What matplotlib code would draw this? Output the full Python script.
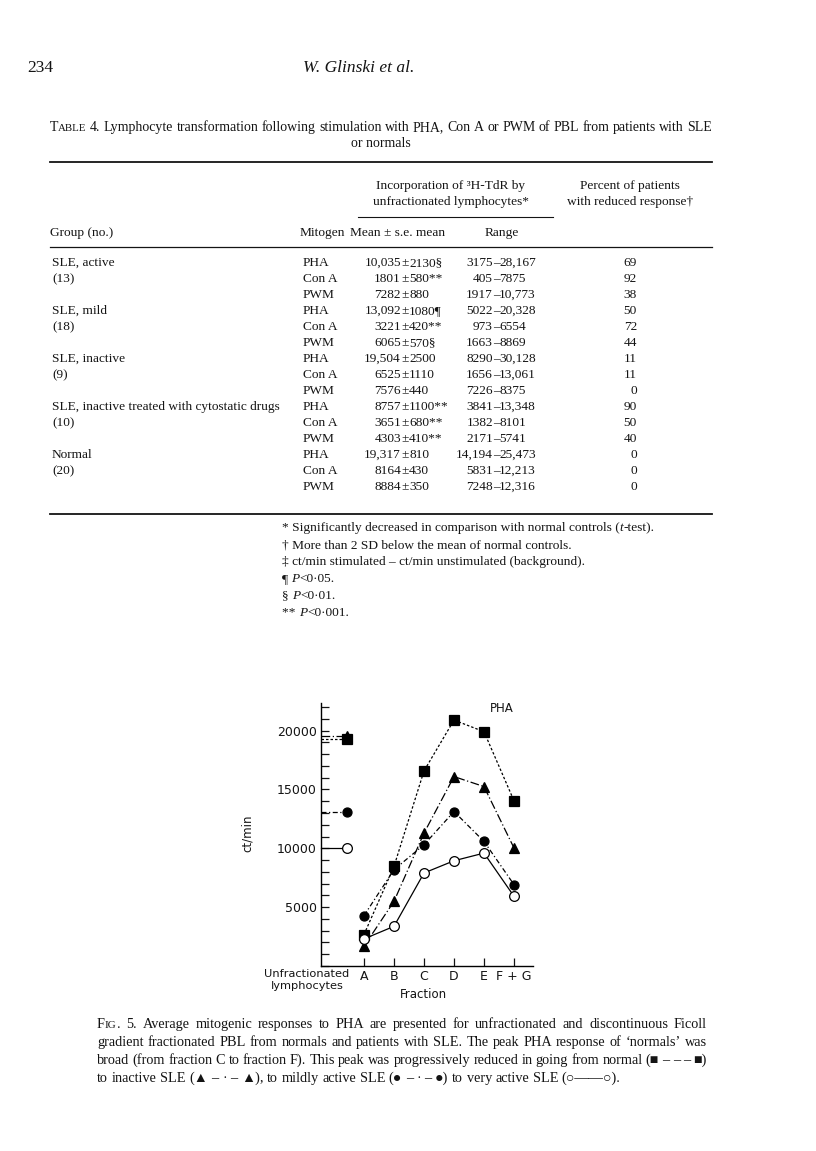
import matplotlib
matplotlib.use("Agg")
import matplotlib.pyplot as plt
from matplotlib.ticker import MultipleLocator

# ---- figure data ----
fractions = ["A", "B", "C", "D", "E", "F + G"]
normal = [2670, 8460, 16570, 20890, 19900, 14030]
inactive = [1680, 5490, 11290, 16090, 15240, 10020]
mild = [4280, 8180, 10300, 13120, 10580, 6910]
active = [2300, 3370, 7900, 8940, 9590, 5920]
# unfractionated lymphocytes: normal, inactive, mild, active
unfractionated = [19317, 19504, 13092, 10035]

# ---- table 4 ----
groups = ["SLE, active", "SLE, mild", "SLE, inactive",
          "SLE, inactive treated with cytostatic drugs", "Normal"]
group_n = ["(13)", "(18)", "(9)", "(10)", "(20)"]
mitogens = ["PHA", "Con A", "PWM"]
means = ["10,035", "1801", "7282", "13,092", "3221", "6065", "19,504", "6525",
         "7576", "8757", "3651", "4303", "19,317", "8164", "8884"]
ses = ["2130§", "580**", "880", "1080¶", "420**", "570§", "2500", "1110", "440",
       "1100**", "680**", "410**", "810", "430", "350"]
range_lo = ["3175", "405", "1917", "5022", "973", "1663", "8290", "1656", "7226",
            "3841", "1382", "2171", "14,194", "5831", "7248"]
range_hi = ["28,167", "7875", "10,773", "20,328", "6554", "8869", "30,128", "13,061",
            "8375", "13,348", "8101", "5741", "25,473", "12,213", "12,316"]
percent = [69, 92, 38, 50, 72, 44, 11, 11, 0, 90, 50, 40, 0, 0, 0]

footnotes = [
    [("* Significantly decreased in comparison with normal controls (", 1, "normal"),
     ("t", 1, "italic"), ("-test).", 1, "normal")],
    [("† More than 2 SD below the mean of normal controls.", 1, "normal")],
    [("‡ ct/min stimulated – ct/min unstimulated (background).", 1, "normal")],
    [("¶ ", 1, "normal"), ("P", 1, "italic"), ("<0·05.", 1, "normal")],
    [("§ ", 1, "normal"), ("P", 1, "italic"), ("<0·01.", 1, "normal")],
    [("** ", 1, "normal"), ("P", 1, "italic"), ("<0·001.", 1, "normal")],
]

caption = [
    "Average mitogenic responses to PHA are presented for unfractionated and discontinuous Ficoll",
    "gradient fractionated PBL from normals and patients with SLE. The peak PHA response of ‘normals’ was",
    "broad (from fraction C to fraction F). This peak was progressively reduced in going from normal (■ – – – ■)",
    "to inactive SLE (▲ – · – ▲), to mildly active SLE (● – · – ●) to very active SLE (○——○).",
]

W, H = 816, 1151
SERIF = ["Liberation Serif", "DejaVu Serif"]
INK = "#141414"
TS = 9.6  # table text size

fig = plt.figure(figsize=(W / 100, H / 100), dpi=100)
fig.patch.set_facecolor("white")
renderer = fig.canvas.get_renderer()


def px(x, y):
    return x / W, 1 - y / H


def txt(x, y, s, size=TS, **kw):
    kw.setdefault("family", SERIF)
    kw.setdefault("color", INK)
    kw.setdefault("va", "baseline")
    return fig.text(*px(x, y + 4), s, fontsize=size, **kw)


def make_word(word, size):
    if isinstance(word, str):
        word = [(word, 1, "normal")]
    return [txt(0, 0, s, size * f, style=st) for s, f, st in word]


def word_width(parts):
    return sum(t.get_window_extent(renderer).width for t in parts)


def line(words, x0, y, size, x1=None):
    # lay words out left to right, justified between x0 and x1 if given
    parts = [make_word(w, size) for w in words]
    widths = [word_width(p) for p in parts]
    gap = size * 1.389 * 0.25
    if x1 is not None and len(words) > 1:
        gap = (x1 - x0 - sum(widths)) / (len(words) - 1)
    x = x0
    for p, w in zip(parts, widths):
        xx = x
        for t in p:
            t.set_position(px(xx, y + 4))
            xx += t.get_window_extent(renderer).width
        x += w + gap


# ---- running head ----
txt(27, 68, "234", 12.5)
txt(303, 68, "W. Glinski et al.", 12.5, style="italic")

# ---- table title ----
title_words = [[("T", 1, "normal"), ("ABLE", 0.78, "normal")], "4."] + \
    "Lymphocyte transformation following stimulation with PHA, Con A or PWM of PBL from patients with SLE".split()
line(title_words, 50, 127, 10.0, 712)
txt(381, 143, "or normals", 10.0, ha="center")

fig.add_artist(plt.Line2D([50 / W, 712 / W], [1 - 162 / H] * 2, lw=1.3, color=INK))
fig.add_artist(plt.Line2D([358 / W, 553 / W], [1 - 217 / H] * 2, lw=0.8, color=INK))
fig.add_artist(plt.Line2D([50 / W, 712 / W], [1 - 247 / H] * 2, lw=0.9, color=INK))
fig.add_artist(plt.Line2D([50 / W, 712 / W], [1 - 514 / H] * 2, lw=1.3, color=INK))

txt(451, 185, "Incorporation of ³H-TdR by", ha="center")
txt(451, 201, "unfractionated lymphocytes*", ha="center")
txt(630, 185, "Percent of patients", ha="center")
txt(630, 201, "with reduced response†", ha="center")
txt(50, 232, "Group (no.)")
txt(300, 232, "Mitogen")
txt(350, 232, "Mean ± s.e. mean")
txt(502, 232, "Range", ha="center")

row_y0, row_dy = 262, 16
for g in range(len(groups)):
    y = row_y0 + 3 * g * row_dy
    txt(52, y, groups[g])
    txt(52, y + row_dy, group_n[g])
    for m in range(3):
        i = 3 * g + m
        yy = y + m * row_dy
        txt(303, yy, mitogens[m])
        txt(401, yy, means[i], ha="right")
        txt(405, yy, "±", ha="center")
        txt(409, yy, ses[i])
        txt(493, yy, range_lo[i], ha="right")
        txt(496, yy, "–", ha="center")
        txt(499, yy, range_hi[i])
        txt(637, yy, str(percent[i]), ha="right")

for k, fn in enumerate(footnotes):
    line([fn], 282, 527 + 17 * k, TS)

# ---- figure 5 ----
ax = fig.add_axes([321 / W, 1 - 966 / H, (533 - 321) / W, (966 - 703) / H])
xs = list(range(1, len(fractions) + 1))
x_unf = 0.43
x_left = -0.433
styles = [
    (normal, "s", "black", (0, (2, 1.6)), 7.0),
    (inactive, "^", "black", (0, (7, 2, 1, 2)), 7.0),
    (mild, "o", "black", (0, (4, 2, 1, 2)), 6.5),
    (active, "o", "white", "-", 7.0),
]
for (vals, mk, mfc, ls, ms), u in zip(styles, unfractionated):
    ax.plot(xs, vals, ls=ls, color="black", lw=0.9, marker=mk, ms=ms,
            mfc=mfc, mec="black", mew=0.9, clip_on=False, zorder=3)
    ax.plot([x_left, x_unf], [u, u], ls=ls, color="black", lw=0.9, clip_on=False)
    ax.plot([x_unf], [u], marker=mk, ms=ms, mfc=mfc, mec="black", mew=0.9,
            clip_on=False, zorder=3)

ax.set_xlim(x_left, 6.633)
ax.set_ylim(0, 22340)
ax.set_xticks(xs, fractions)
ax.set_yticks([5000, 10000, 15000, 20000], ["5000", "10000", "15000", "20000"])
ax.yaxis.set_minor_locator(MultipleLocator(1000))
ax.tick_params(axis="both", which="both", direction="in", length=6, width=0.9,
               labelsize=9, colors=INK)
ax.tick_params(axis="y", pad=3)
ax.tick_params(axis="x", pad=3)
for s in ("top", "right"):
    ax.spines[s].set_visible(False)
for s in ("left", "bottom"):
    ax.spines[s].set_linewidth(1.0)
ax.patch.set_alpha(0)

sans = dict(family="DejaVu Sans", color=INK, va="center")
fig.text(*px(502, 708), "PHA", fontsize=8.5, ha="center", **sans)
fig.text(*px(247, 833), "ct/min", fontsize=8.5, rotation=90, ha="center", **sans)
fig.text(*px(423, 995), "Fraction", fontsize=8.5, ha="center", **sans)
fig.text(*px(307, 974), "Unfractionated", fontsize=8.2, ha="center", **sans)
fig.text(*px(307, 986), "lymphocytes", fontsize=8.2, ha="center", **sans)

# ---- caption ----
cap_size = 10.3
first = [[("F", 1, "normal"), ("IG", 0.78, "normal"), (".", 1, "normal")], "5."]
line(first + caption[0].split(), 97, 1024, cap_size, 707)
line(caption[1].split(), 97, 1042, cap_size, 707)
line(caption[2].split(), 97, 1060, cap_size, 707)
line(caption[3].split(), 97, 1078, cap_size)

fig.savefig("out.png", dpi=100, facecolor="white")
